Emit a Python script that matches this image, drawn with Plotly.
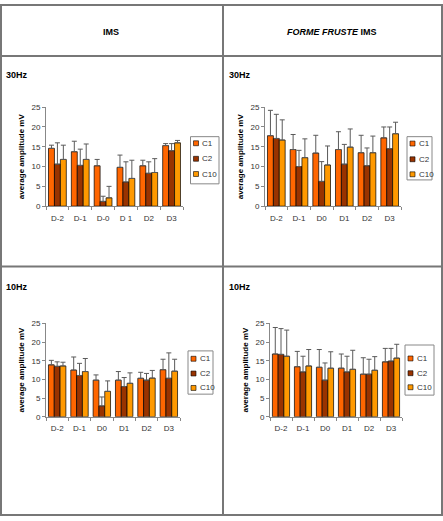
import plotly.graph_objects as go

W, H = 443, 521

categories_ims = ["D-2", "D-1", "D-0", "D 1", "D2", "D3"]
categories_ff = ["D-2", "D-1", "D0", "D1", "D2", "D3"]
series_names = ["C1", "C2", "C10"]
series_colors = ["#FF6600", "#993300", "#FF9900"]

# IMS 30Hz
ims30_c1 = [14.6, 13.75, 10.2, 9.8, 10.2, 15.3]
ims30_c1_sd = [0.8, 2.65, 1.6, 3.1, 1.4, 0.5]
ims30_c2 = [10.6, 10.3, 1.2, 6.1, 8.3, 14.0]
ims30_c2_sd = [5.4, 4.1, 1.3, 5.1, 2.9, 1.8]
ims30_c10 = [11.8, 11.8, 2.1, 7.0, 8.5, 16.0]
ims30_c10_sd = [3.6, 3.9, 2.9, 4.6, 3.5, 0.6]

# Forme fruste IMS 30Hz
ff30_c1 = [17.8, 14.3, 13.4, 14.3, 13.5, 17.25]
ff30_c1_sd = [6.4, 3.8, 4.5, 4.5, 4.4, 2.75]
ff30_c2 = [17.1, 10.0, 6.25, 10.6, 10.2, 14.5]
ff30_c2_sd = [6.1, 4.1, 5.0, 5.0, 4.5, 5.5]
ff30_c10 = [16.7, 12.25, 10.4, 14.9, 13.5, 18.3]
ff30_c10_sd = [5.1, 4.75, 4.8, 4.6, 4.2, 2.9]

# IMS 10Hz
ims10_c1 = [13.9, 12.5, 9.8, 9.8, 10.3, 12.6]
ims10_c1_sd = [1.2, 3.5, 1.4, 2.3, 1.6, 2.8]
ims10_c2 = [13.5, 11.05, 2.9, 8.1, 9.8, 10.3]
ims10_c2_sd = [1.2, 3.25, 2.4, 2.4, 1.8, 6.8]
ims10_c10 = [13.6, 12.1, 6.8, 8.95, 10.35, 12.2]
ims10_c10_sd = [1.0, 3.5, 2.8, 2.8, 2.05, 3.2]

# Forme fruste IMS 10Hz
ff10_c1 = [16.8, 13.4, 13.25, 13.0, 11.4, 14.7]
ff10_c1_sd = [7.1, 4.1, 4.75, 3.8, 4.4, 3.6]
ff10_c2 = [16.7, 12.0, 9.8, 12.0, 11.4, 14.9]
ff10_c2_sd = [6.9, 4.2, 4.6, 4.2, 4.0, 3.4]
ff10_c10 = [16.2, 13.6, 13.0, 12.7, 12.45, 15.7]
ff10_c10_sd = [7.0, 4.4, 4.4, 5.1, 3.65, 3.7]

y_ticks = [0, 5, 10, 15, 20, 25]
y_title = "average amplitude mV"


def px(x):
    return x / W


def py(y):
    return 1 - y / H


panels = [
    dict(cats=categories_ims, vals=[ims30_c1, ims30_c2, ims30_c10],
         sds=[ims30_c1_sd, ims30_c2_sd, ims30_c10_sd],
         xd=(46, 183), yd=(105, 205.7), leg=(190.5, 219, 135, 183), legy=(141.7, 157.5, 173)),
    dict(cats=categories_ff, vals=[ff30_c1, ff30_c2, ff30_c10],
         sds=[ff30_c1_sd, ff30_c2_sd, ff30_c10_sd],
         xd=(265, 401), yd=(105, 205.7), leg=(407, 432, 135, 179), legy=(142, 158, 173.3)),
    dict(cats=categories_ff, vals=[ims10_c1, ims10_c2, ims10_c10],
         sds=[ims10_c1_sd, ims10_c2_sd, ims10_c10_sd],
         xd=(46, 180), yd=(325, 420), leg=(188, 213, 353, 397), legy=(361, 376, 390.7)),
    dict(cats=categories_ff, vals=[ff10_c1, ff10_c2, ff10_c10],
         sds=[ff10_c1_sd, ff10_c2_sd, ff10_c10_sd],
         xd=(270, 402), yd=(325, 420), leg=(405, 434, 347, 398), legy=(360.7, 375.7, 390)),
]

fig = go.Figure()
shapes = []
annotations = []
font_family = "Liberation Sans, Arial, sans-serif"

for i, p in enumerate(panels):
    n = "" if i == 0 else str(i + 1)
    for s, name in enumerate(series_names):
        fig.add_trace(go.Bar(
            x=p["cats"], y=p["vals"][s], name=name,
            marker=dict(color=series_colors[s], line=dict(color="#000000", width=0.7)),
            error_y=dict(type="data", symmetric=False, array=p["sds"][s],
                         arrayminus=[0] * len(p["sds"][s]),
                         color="#5a5a5a", thickness=1, width=2.5),
            xaxis="x" + n, yaxis="y" + n, showlegend=False,
        ))
    fig.update_layout(**{
        "xaxis" + n: dict(domain=[px(p["xd"][0]), px(p["xd"][1])], anchor="y" + n,
                          type="category", showline=True, linecolor="#888888", linewidth=1,
                          ticks="outside", ticklen=3, tickcolor="#888888", tickson="boundaries",
                          tickangle=0, ticklabelstandoff=4,
                          tickfont=dict(size=8, color="#333333", family=font_family),
                          showgrid=False, zeroline=False, fixedrange=True),
        "yaxis" + n: dict(domain=[py(p["yd"][1]), py(p["yd"][0])], anchor="x" + n,
                          range=[0, 25], tickvals=y_ticks, showline=True, linecolor="#888888",
                          linewidth=1, ticks="outside", ticklen=3, tickcolor="#888888",
                          tickfont=dict(size=8, color="#333333", family=font_family),
                          title=dict(text="<b>" + y_title + "</b>", standoff=5,
                                     font=dict(size=8, color="#000000", family=font_family)),
                          showgrid=False, zeroline=False, fixedrange=True),
    })
    # legend box
    x0, x1, y0, y1 = p["leg"]
    shapes.append(dict(type="rect", xref="paper", yref="paper",
                       x0=px(x0), x1=px(x1), y0=py(y1), y1=py(y0),
                       line=dict(color="#888888", width=1), fillcolor="white"))
    for s, name in enumerate(series_names):
        cy = p["legy"][s]
        shapes.append(dict(type="rect", xref="paper", yref="paper",
                           x0=px(x0 + 3), x1=px(x0 + 8), y0=py(cy + 2.5), y1=py(cy - 2.5),
                           line=dict(color="#000000", width=0.6), fillcolor=series_colors[s]))
        annotations.append(dict(xref="paper", yref="paper", x=px(x0 + 9.5), y=py(cy),
                                xanchor="left", yanchor="middle", showarrow=False, text=name,
                                font=dict(size=8, color="#333333", family=font_family)))

# table grid
line_col = "#777777"
shapes += [
    dict(type="rect", xref="paper", yref="paper", x0=px(1), x1=px(442), y0=py(520), y1=py(1),
         line=dict(color=line_col, width=2)),
    dict(type="line", xref="paper", yref="paper", x0=px(223), x1=px(223), y0=py(520), y1=py(1),
         line=dict(color=line_col, width=2)),
    dict(type="line", xref="paper", yref="paper", x0=px(1), x1=px(442), y0=py(53), y1=py(53),
         line=dict(color=line_col, width=2)),
    dict(type="line", xref="paper", yref="paper", x0=px(1), x1=px(442), y0=py(267), y1=py(267),
         line=dict(color=line_col, width=2)),
]

header_font = dict(size=9, color="#000000", family=font_family)


def label(x, y, text, xanchor):
    return dict(xref="paper", yref="paper", x=px(x), y=py(y), text=text,
                xanchor=xanchor, yanchor="middle", showarrow=False, font=header_font)


annotations += [
    label(111, 28, "<b>IMS</b>", "center"),
    label(332, 28, "<b><i>FORME FRUSTE</i> IMS</b>", "center"),
    label(4, 72, "<b>30Hz</b>", "left"),
    label(227, 72, "<b>30Hz</b>", "left"),
    label(4, 288, "<b>10Hz</b>", "left"),
    label(227, 288, "<b>10Hz</b>", "left"),
]

fig.update_layout(
    width=W, height=H, margin=dict(l=0, r=0, t=0, b=0),
    paper_bgcolor="white", plot_bgcolor="white",
    barmode="group", bargap=0.22, bargroupgap=0,
    shapes=shapes, annotations=annotations, showlegend=False,
    font=dict(family=font_family),
)

fig.write_html(
    "out.html",
    config={"displayModeBar": False},
    post_script="document.body.style.margin='0';document.body.style.overflow='hidden';",
)
